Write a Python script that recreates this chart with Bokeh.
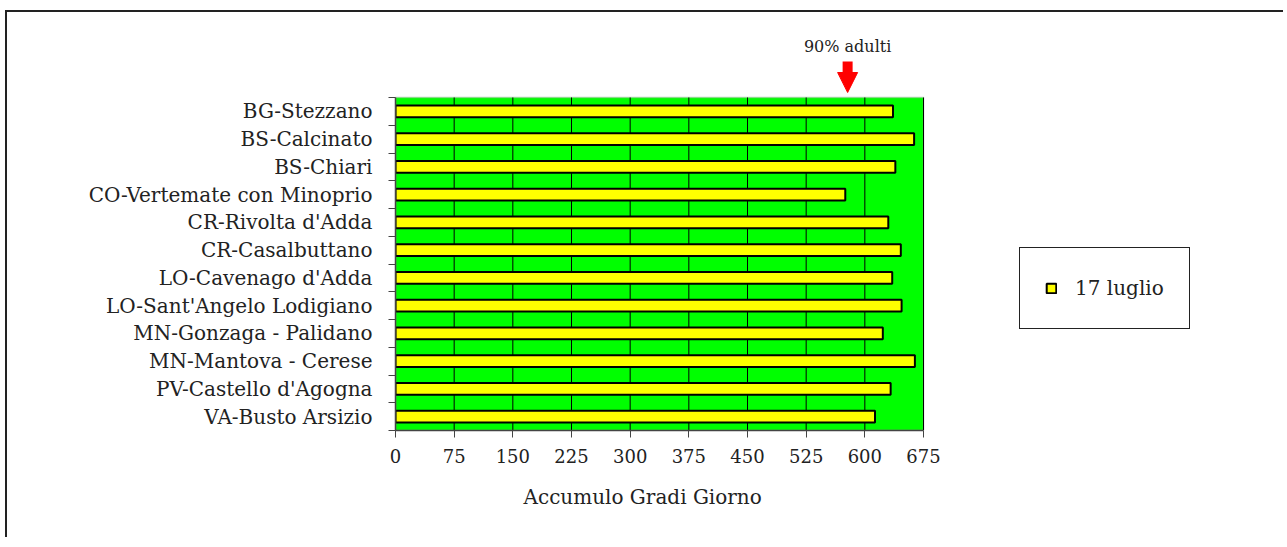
from bokeh.plotting import figure
from bokeh.models import (FixedTicker, Legend, LegendItem, Arrow, NormalHead, Label,
                          Range1d, ColumnDataSource, BoxAnnotation, Title)
from bokeh.embed import file_html
from bokeh.resources import INLINE

# ---- data ----
stations = ["BG-Stezzano", "BS-Calcinato", "BS-Chiari", "CO-Vertemate con Minoprio",
            "CR-Rivolta d'Adda", "CR-Casalbuttano", "LO-Cavenago d'Adda",
            "LO-Sant'Angelo Lodigiano", "MN-Gonzaga - Palidano", "MN-Mantova - Cerese",
            "PV-Castello d'Agogna", "VA-Busto Arsizio"]
gradi_giorno = [636, 663, 639, 575, 630, 646, 635, 647, 623, 664, 633, 613]
series_name = "17 luglio"
x_ticks = [0, 75, 150, 225, 300, 375, 450, 525, 600, 675]
threshold_90 = 578
threshold_label = "90% adulti"
x_title = "Accumulo Gradi Giorno"

# ---- layout constants (pixels) ----
FONT = "DejaVu Serif"
W, H = 1278, 527
LEFT, BOTTOM = 388, 109
PLOT_W, PLOT_H = 528, 333          # size of the green plotting area
frame_w, frame_h = W - LEFT, H - BOTTOM
TITLE_OFFSET = 128                 # left offset of the axis title under the plotting area

n = len(stations)
ypos = [n - 1 - i for i in range(n)]
y0, y1 = -0.5, n - 0.5
x0, x1 = x_ticks[0], x_ticks[-1]
px_per_y = PLOT_H / (y1 - y0)
px_per_x = PLOT_W / (x1 - x0)
y_end = y0 + frame_h / px_per_y
x_end = x0 + frame_w / px_per_x

src = ColumnDataSource(dict(y=ypos, v=gradi_giorno, name=stations))
grid_src = ColumnDataSource(dict(x=x_ticks, b=[y0] * len(x_ticks), t=[y1] * len(x_ticks)))

p = figure(width=W, height=H, output_backend="svg", toolbar_location=None,
           x_range=Range1d(x0, x_end), y_range=Range1d(y0, y_end),
           min_border_left=LEFT, min_border_right=0, min_border_top=0, min_border_bottom=BOTTOM)
p.styles = {"border-left": "2px solid #222", "border-top": "2px solid #222",
            "margin-left": "5px", "margin-top": "10px"}
p.background_fill_color = "white"
p.border_fill_color = "white"
p.outline_line_color = None
p.xgrid.grid_line_color = None
p.ygrid.grid_line_color = None

# green plotting area
p.add_layout(BoxAnnotation(left=x0, right=x1, bottom=y0, top=y1, level="image",
                           fill_color="#00FF00", fill_alpha=1,
                           line_color="#999999", line_width=2))
# vertical grid lines
p.segment(x0="x", y0="b", x1="x", y1="t", source=grid_src, line_color="black", line_width=1)

r = p.hbar(y="y", right="v", left=0, height=0.43, source=src,
           fill_color="#FFFF00", line_color="black", line_width=2)

# x axis
p.xaxis.bounds = (x0, x1)
p.xaxis.ticker = FixedTicker(ticks=x_ticks)
p.xaxis.major_tick_out = 7
p.xaxis.major_tick_in = 0
p.xaxis.minor_tick_line_color = None
p.xaxis.axis_line_color = "#444"
p.xaxis.axis_line_width = 1.5
p.xaxis.major_tick_line_color = "#444"
p.xaxis.major_label_text_font = FONT
p.xaxis.major_label_text_font_size = "18px"
p.xaxis.major_label_text_color = "#222"
p.xaxis.major_label_standoff = 11

# axis title, centred under the plotting area (not the wide frame)
p.add_layout(Title(text=x_title, align="left", offset=TITLE_OFFSET,
                   text_font=FONT, text_font_size="20px", text_font_style="normal",
                   text_color="#222", standoff=35), "below")

# y axis: labels at centres, ticks at category boundaries
bounds = [k - 0.5 for k in range(n + 1)]
p.yaxis.bounds = (y0, y1)
p.yaxis.ticker = FixedTicker(ticks=ypos, minor_ticks=bounds)
p.yaxis.major_label_overrides = {y: s for y, s in zip(ypos, stations)}
p.yaxis.major_tick_line_color = None
p.yaxis.major_tick_out = 0
p.yaxis.major_tick_in = 0
p.yaxis.minor_tick_out = 7
p.yaxis.minor_tick_in = 0
p.yaxis.minor_tick_line_color = "#444"
p.yaxis.axis_line_color = "#444"
p.yaxis.axis_line_width = 1.5
p.yaxis.major_label_text_font = FONT
p.yaxis.major_label_text_font_size = "20px"
p.yaxis.major_label_text_color = "#222"
p.yaxis.major_label_standoff = 16

# legend (inside the wide frame, to the right of the plotting area)
legend = Legend(items=[LegendItem(label=series_name, renderers=[r])],
                location=(624, 101), orientation="vertical")
legend.border_line_color = "#222"
legend.border_line_alpha = 1
legend.border_line_width = 1
legend.background_fill_color = "white"
legend.background_fill_alpha = 1
legend.margin = 0
legend.padding = 25
legend.label_height = 30
legend.glyph_width = 12
legend.glyph_height = 12
legend.label_standoff = 18
legend.label_text_font = FONT
legend.label_text_font_size = "20px"
legend.label_text_color = "#222"
p.add_layout(legend, "center")

# 90% adults marker above the plotting area
p.add_layout(Arrow(end=NormalHead(size=20, fill_color="#FF0000", line_color="#FF0000"),
                   x_start=threshold_90, y_start=y1 + 36 / px_per_y,
                   x_end=threshold_90, y_end=y1 + 5 / px_per_y,
                   line_color="#FF0000", line_width=10))
p.add_layout(Label(x=threshold_90, y=y1 + 51 / px_per_y, text=threshold_label,
                   text_font=FONT, text_font_size="16px", text_color="#222",
                   text_align="center", text_baseline="middle"))

open("out.html", "w").write(file_html(p, INLINE))
